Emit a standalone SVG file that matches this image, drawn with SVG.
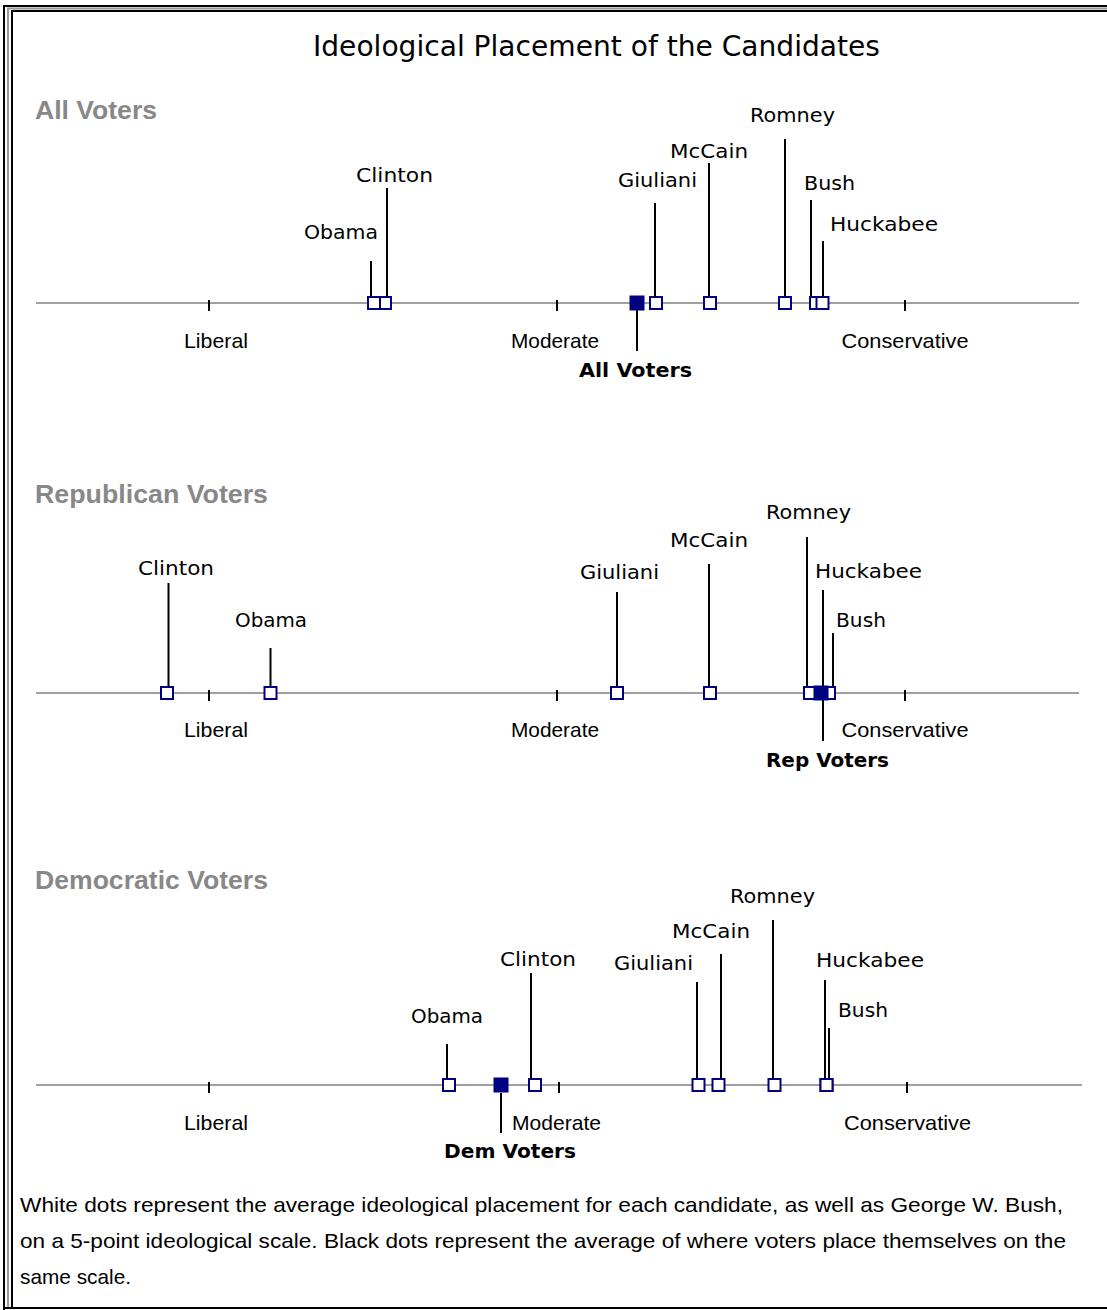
<svg xmlns="http://www.w3.org/2000/svg" width="1107" height="1310" viewBox="0 0 1107 1310">
<style>
.frame{stroke:#000;stroke-width:2;fill:none}
.frame2{stroke:#999;stroke-width:2;fill:none}
.axis{stroke:#808080;stroke-width:1.5}
.tick{stroke:#000;stroke-width:2}
.stem{stroke:#000;stroke-width:2}
.c{fill:#fff;stroke:#000080;stroke-width:2}
.v{fill:#000080;stroke:#000080;stroke-width:2}
.title{font-family:"DejaVu Sans",Verdana,sans-serif;font-size:28px;fill:#000}
.hdr{font-family:"Liberation Sans",Arial,sans-serif;font-size:25px;font-weight:bold;fill:#888}
.scale{font-family:"Liberation Sans",Arial,sans-serif;font-size:21px;fill:#000}
.lab{font-family:"DejaVu Sans",Verdana,sans-serif;font-size:20px;fill:#000}
.vlab{font-family:"DejaVu Sans",Verdana,sans-serif;font-size:20px;font-weight:bold;fill:#000}
.foot{font-family:"Liberation Sans",Arial,sans-serif;font-size:21px;fill:#000}
</style>
<rect width="1107" height="1310" fill="#fff"/>
<g id="frame">
<line class="frame" x1="3" y1="6" x2="1107" y2="6"/>
<line class="frame2" x1="7" y1="8.5" x2="1107" y2="8.5"/>
<line class="frame" x1="11" y1="11" x2="1107" y2="11"/>
<line class="frame" x1="4" y1="5" x2="4" y2="1310"/>
<line class="frame2" x1="8" y1="8" x2="8" y2="1308"/>
<line class="frame" x1="12" y1="10" x2="12" y2="1308"/>
<line class="frame" x1="3" y1="1308" x2="1107" y2="1308"/>
</g>
<g id="title"><text class="title" x="313" y="56" textLength="567" lengthAdjust="spacingAndGlyphs">Ideological Placement of the Candidates</text></g>

<!-- Panel 1 -->
<g id="panel1-scale">
<text class="hdr" x="35" y="119" textLength="122" lengthAdjust="spacingAndGlyphs">All Voters</text>
<line class="axis" x1="36" y1="303" x2="1079" y2="303"/>
<line class="tick" x1="209" y1="300" x2="209" y2="311"/>
<line class="tick" x1="557" y1="300" x2="557" y2="311"/>
<line class="tick" x1="905" y1="300" x2="905" y2="311"/>
<text class="scale" x="216" y="348" text-anchor="middle" textLength="64" lengthAdjust="spacingAndGlyphs">Liberal</text>
<text class="scale" x="555" y="348" text-anchor="middle" textLength="88" lengthAdjust="spacingAndGlyphs">Moderate</text>
<text class="scale" x="905" y="348" text-anchor="middle" textLength="127" lengthAdjust="spacingAndGlyphs">Conservative</text>
</g>
<g id="connectors">
<line class="stem" x1="371" y1="261" x2="371" y2="296"/>
<line class="stem" x1="387" y1="188" x2="387" y2="296"/>
<line class="stem" x1="655" y1="203" x2="655" y2="296"/>
<line class="stem" x1="709" y1="163" x2="709" y2="296"/>
<line class="stem" x1="785" y1="139" x2="785" y2="296"/>
<line class="stem" x1="811" y1="200" x2="811" y2="296"/>
<line class="stem" x1="823" y1="241" x2="823" y2="296"/>
<line class="stem" x1="637" y1="310" x2="637" y2="351"/>

<line class="stem" x1="168.5" y1="583" x2="168.5" y2="686"/>
<line class="stem" x1="270.5" y1="648" x2="270.5" y2="686"/>
<line class="stem" x1="617" y1="592" x2="617" y2="686"/>
<line class="stem" x1="709" y1="564" x2="709" y2="686"/>
<line class="stem" x1="807" y1="537" x2="807" y2="686"/>
<line class="stem" x1="823" y1="590" x2="823" y2="686"/>
<line class="stem" x1="833" y1="633" x2="833" y2="686"/>
<line class="stem" x1="823" y1="700" x2="823" y2="741"/>

<line class="stem" x1="447" y1="1044" x2="447" y2="1078"/>
<line class="stem" x1="501" y1="1093" x2="501" y2="1133"/>
<line class="stem" x1="531" y1="973" x2="531" y2="1078"/>
<line class="stem" x1="697" y1="982" x2="697" y2="1078"/>
<line class="stem" x1="721" y1="954" x2="721" y2="1078"/>
<line class="stem" x1="773" y1="920" x2="773" y2="1078"/>
<line class="stem" x1="825" y1="980" x2="825" y2="1078"/>
<line class="stem" x1="829" y1="1028" x2="829" y2="1078"/>
</g>

<g id="p1-clinton"><rect class="c" x="379" y="297" width="12" height="12"/><text class="lab" x="356" y="182" textLength="77" lengthAdjust="spacingAndGlyphs">Clinton</text></g>
<g id="p1-obama"><rect class="c" x="368" y="297" width="12" height="12"/><text class="lab" x="304" y="239" textLength="74" lengthAdjust="spacingAndGlyphs">Obama</text></g>
<g id="p1-voters"><rect class="v" x="630.5" y="296.5" width="13" height="13"/><text class="vlab" x="579" y="377" textLength="113" lengthAdjust="spacingAndGlyphs">All Voters</text></g>
<g id="p1-giuliani"><rect class="c" x="650" y="297" width="12" height="12"/><text class="lab" x="618" y="187" textLength="79" lengthAdjust="spacingAndGlyphs">Giuliani</text></g>
<g id="p1-mccain"><rect class="c" x="704" y="297" width="12" height="12"/><text class="lab" x="670" y="158" textLength="78" lengthAdjust="spacingAndGlyphs">McCain</text></g>
<g id="p1-romney"><rect class="c" x="779" y="297" width="12" height="12"/><text class="lab" x="750" y="122" textLength="85" lengthAdjust="spacingAndGlyphs">Romney</text></g>
<g id="p1-bush"><rect class="c" x="810" y="297" width="12" height="12"/><text class="lab" x="804" y="190" textLength="51" lengthAdjust="spacingAndGlyphs">Bush</text></g>
<g id="p1-huckabee"><rect class="c" x="816.5" y="297" width="12" height="12"/><text class="lab" x="830" y="231" textLength="108" lengthAdjust="spacingAndGlyphs">Huckabee</text></g>

<!-- Panel 2 -->
<g id="panel2-scale">
<text class="hdr" x="35" y="503" textLength="233" lengthAdjust="spacingAndGlyphs">Republican Voters</text>
<line class="axis" x1="36" y1="693" x2="1079" y2="693"/>
<line class="tick" x1="209" y1="690" x2="209" y2="701"/>
<line class="tick" x1="557" y1="690" x2="557" y2="701"/>
<line class="tick" x1="905" y1="690" x2="905" y2="701"/>
<text class="scale" x="216" y="737" text-anchor="middle" textLength="64" lengthAdjust="spacingAndGlyphs">Liberal</text>
<text class="scale" x="555" y="737" text-anchor="middle" textLength="88" lengthAdjust="spacingAndGlyphs">Moderate</text>
<text class="scale" x="905" y="737" text-anchor="middle" textLength="127" lengthAdjust="spacingAndGlyphs">Conservative</text>
</g>
<g id="p2-clinton"><rect class="c" x="161" y="687" width="12" height="12"/><text class="lab" x="138" y="575" textLength="76" lengthAdjust="spacingAndGlyphs">Clinton</text></g>
<g id="p2-obama"><rect class="c" x="264.5" y="687" width="12" height="12"/><text class="lab" x="235" y="627" textLength="72" lengthAdjust="spacingAndGlyphs">Obama</text></g>
<g id="p2-giuliani"><rect class="c" x="611" y="687" width="12" height="12"/><text class="lab" x="580" y="579" textLength="79" lengthAdjust="spacingAndGlyphs">Giuliani</text></g>
<g id="p2-mccain"><rect class="c" x="704" y="687" width="12" height="12"/><text class="lab" x="670" y="547" textLength="78" lengthAdjust="spacingAndGlyphs">McCain</text></g>
<g id="p2-romney"><rect class="c" x="804" y="687" width="12" height="12"/><text class="lab" x="766" y="519" textLength="85" lengthAdjust="spacingAndGlyphs">Romney</text></g>
<g id="p2-huckabee"><rect class="c" x="817" y="687" width="12" height="12"/><text class="lab" x="815" y="578" textLength="107" lengthAdjust="spacingAndGlyphs">Huckabee</text></g>
<g id="p2-bush"><rect class="c" x="823" y="687" width="12" height="12"/><text class="lab" x="836" y="627" textLength="50" lengthAdjust="spacingAndGlyphs">Bush</text></g>
<g id="p2-voters"><rect class="v" x="814.5" y="686.5" width="13" height="13"/><text class="vlab" x="766" y="767" textLength="123" lengthAdjust="spacingAndGlyphs">Rep Voters</text></g>

<!-- Panel 3 -->
<g id="panel3-scale">
<text class="hdr" x="35" y="889" textLength="233" lengthAdjust="spacingAndGlyphs">Democratic Voters</text>
<line class="axis" x1="36" y1="1085" x2="1082" y2="1085"/>
<line class="tick" x1="209" y1="1082" x2="209" y2="1093"/>
<line class="tick" x1="559" y1="1082" x2="559" y2="1093"/>
<line class="tick" x1="907" y1="1082" x2="907" y2="1093"/>
<text class="scale" x="216" y="1130" text-anchor="middle" textLength="64" lengthAdjust="spacingAndGlyphs">Liberal</text>
<text class="scale" x="556.5" y="1130" text-anchor="middle" textLength="89" lengthAdjust="spacingAndGlyphs">Moderate</text>
<text class="scale" x="907.5" y="1130" text-anchor="middle" textLength="127" lengthAdjust="spacingAndGlyphs">Conservative</text>
</g>
<g id="p3-obama"><rect class="c" x="443" y="1079" width="12" height="12"/><text class="lab" x="411" y="1023" textLength="72" lengthAdjust="spacingAndGlyphs">Obama</text></g>
<g id="p3-voters"><rect class="v" x="494.5" y="1078.5" width="13" height="13"/><text class="vlab" x="444" y="1158" textLength="132" lengthAdjust="spacingAndGlyphs">Dem Voters</text></g>
<g id="p3-clinton"><rect class="c" x="529" y="1079" width="12" height="12"/><text class="lab" x="500" y="966" textLength="76" lengthAdjust="spacingAndGlyphs">Clinton</text></g>
<g id="p3-giuliani"><rect class="c" x="692.5" y="1079" width="12" height="12"/><text class="lab" x="614" y="970" textLength="79" lengthAdjust="spacingAndGlyphs">Giuliani</text></g>
<g id="p3-mccain"><rect class="c" x="712.5" y="1079" width="12" height="12"/><text class="lab" x="672" y="938" textLength="78" lengthAdjust="spacingAndGlyphs">McCain</text></g>
<g id="p3-romney"><rect class="c" x="768.5" y="1079" width="12" height="12"/><text class="lab" x="730" y="903" textLength="85" lengthAdjust="spacingAndGlyphs">Romney</text></g>
<g id="p3-huckabee"><rect class="c" x="820.5" y="1079" width="12" height="12"/><text class="lab" x="816" y="967" textLength="108" lengthAdjust="spacingAndGlyphs">Huckabee</text></g>
<g id="p3-bush"><rect class="c" x="820.5" y="1079" width="12" height="12"/><text class="lab" x="838" y="1017" textLength="50" lengthAdjust="spacingAndGlyphs">Bush</text></g>

<g id="footnote">
<text class="foot" x="20" y="1212" textLength="1043" lengthAdjust="spacingAndGlyphs">White dots represent the average ideological placement for each candidate, as well as George W. Bush,</text>
<text class="foot" x="20" y="1248" textLength="1046" lengthAdjust="spacingAndGlyphs">on a 5-point ideological scale. Black dots represent the average of where voters place themselves on the</text>
<text class="foot" x="20" y="1284" textLength="111" lengthAdjust="spacingAndGlyphs">same scale.</text>
</g>
</svg>
